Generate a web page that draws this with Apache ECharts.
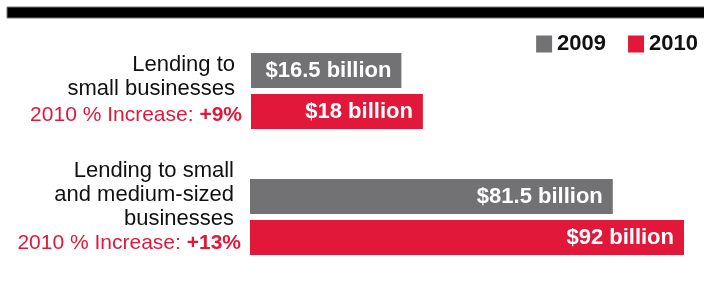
<!DOCTYPE html>
<html>
<head>
<meta charset="utf-8">
<script src="https://cdn.jsdelivr.net/npm/echarts@6/dist/echarts.min.js"></script>
<style>
  html, body { margin: 0; padding: 0; background: #fff; }
  #chart { width: 704px; height: 283px; }
</style>
</head>
<body>
<div id="chart"></div>
<script>
// data
var years = ['2009', '2010'];
var groups = ['Lending to small businesses', 'Lending to small and medium-sized businesses'];
var groupLines = [['Lending to', 'small businesses'], ['Lending to small', 'and medium-sized', 'businesses']];
var increase = ['+9%', '+13%'];
var values2009 = [16.5, 81.5];
var values2010 = [18, 92];

var GRAY = '#727174';
var RED = '#e2183a';
var FONT = 'Liberation Sans';

function catLabel(i) {
    var s = groupLines[i].map(function (l) { return '{b|' + l + '}'; }).join('\n');
    return s + '\n{r|2010 % Increase: }{rb|' + increase[i] + '}';
}

function makeYAxis(i, redLH, padBottom) {
    return {
        type: 'category',
        gridIndex: i,
        inverse: true,
        data: [groups[i]],
        axisLine: { show: false },
        axisTick: { show: false },
        axisLabel: {
            margin: 9,
            padding: [0, 0, padBottom, 0],
            formatter: function () { return catLabel(i); },
            rich: {
                b: { fontFamily: FONT, fontSize: 22, color: '#111', lineHeight: 24, padding: [0, 7, 0, 0] },
                r: { fontFamily: FONT, fontSize: 21, color: RED, lineHeight: redLH },
                rb: { fontFamily: FONT, fontSize: 21, color: RED, fontWeight: 'bold', lineHeight: redLH }
            }
        }
    };
}

function barLabel(p) {
    return '$' + p.value + ' billion';
}

function drawChart() {
    var chart = echarts.init(document.getElementById('chart'));
    var labelCfg = {
        show: true,
        position: 'insideRight',
        distance: 10,
        color: '#fff',
        fontFamily: FONT,
        fontWeight: 'bold',
        fontSize: 22,
        formatter: barLabel
    };
    var series = [];
    for (var i = 0; i < groups.length; i++) {
        series.push({
            name: '2009', type: 'bar', xAxisIndex: i, yAxisIndex: i,
            barWidth: 35, barGap: '17%',
            itemStyle: { color: GRAY },
            label: labelCfg,
            data: [values2009[i]]
        });
        series.push({
            name: '2010', type: 'bar', xAxisIndex: i, yAxisIndex: i,
            barWidth: 35, barGap: '17%',
            itemStyle: { color: RED },
            label: labelCfg,
            data: [values2010[i]]
        });
    }
    var option = {
        backgroundColor: '#fff',
        animation: false,
        graphic: [{
            type: 'rect',
            shape: { x: 7, y: 7, width: 700, height: 11 },
            style: { fill: '#000', stroke: '#777', lineWidth: 1 }
        }],
        legend: {
            data: years,
            right: 1,
            top: 28,
            icon: 'rect',
            itemWidth: 16,
            itemHeight: 17,
            itemGap: 22,
            textStyle: { fontFamily: FONT, fontWeight: 'bold', fontSize: 22, color: '#111' }
        },
        grid: [
            { left: 251, top: 51, width: 434, height: 80 },
            { left: 250, top: 177, width: 434, height: 80 }
        ],
        xAxis: [
            { type: 'value', gridIndex: 0, min: 6, max: 36.3, show: false },
            { type: 'value', gridIndex: 1, min: 28, max: 92, show: false }
        ],
        yAxis: [makeYAxis(0, 29, 0), makeYAxis(1, 24, 20)],
        series: series
    };
    chart.setOption(option);
}
drawChart();
</script>
</body>
</html>
